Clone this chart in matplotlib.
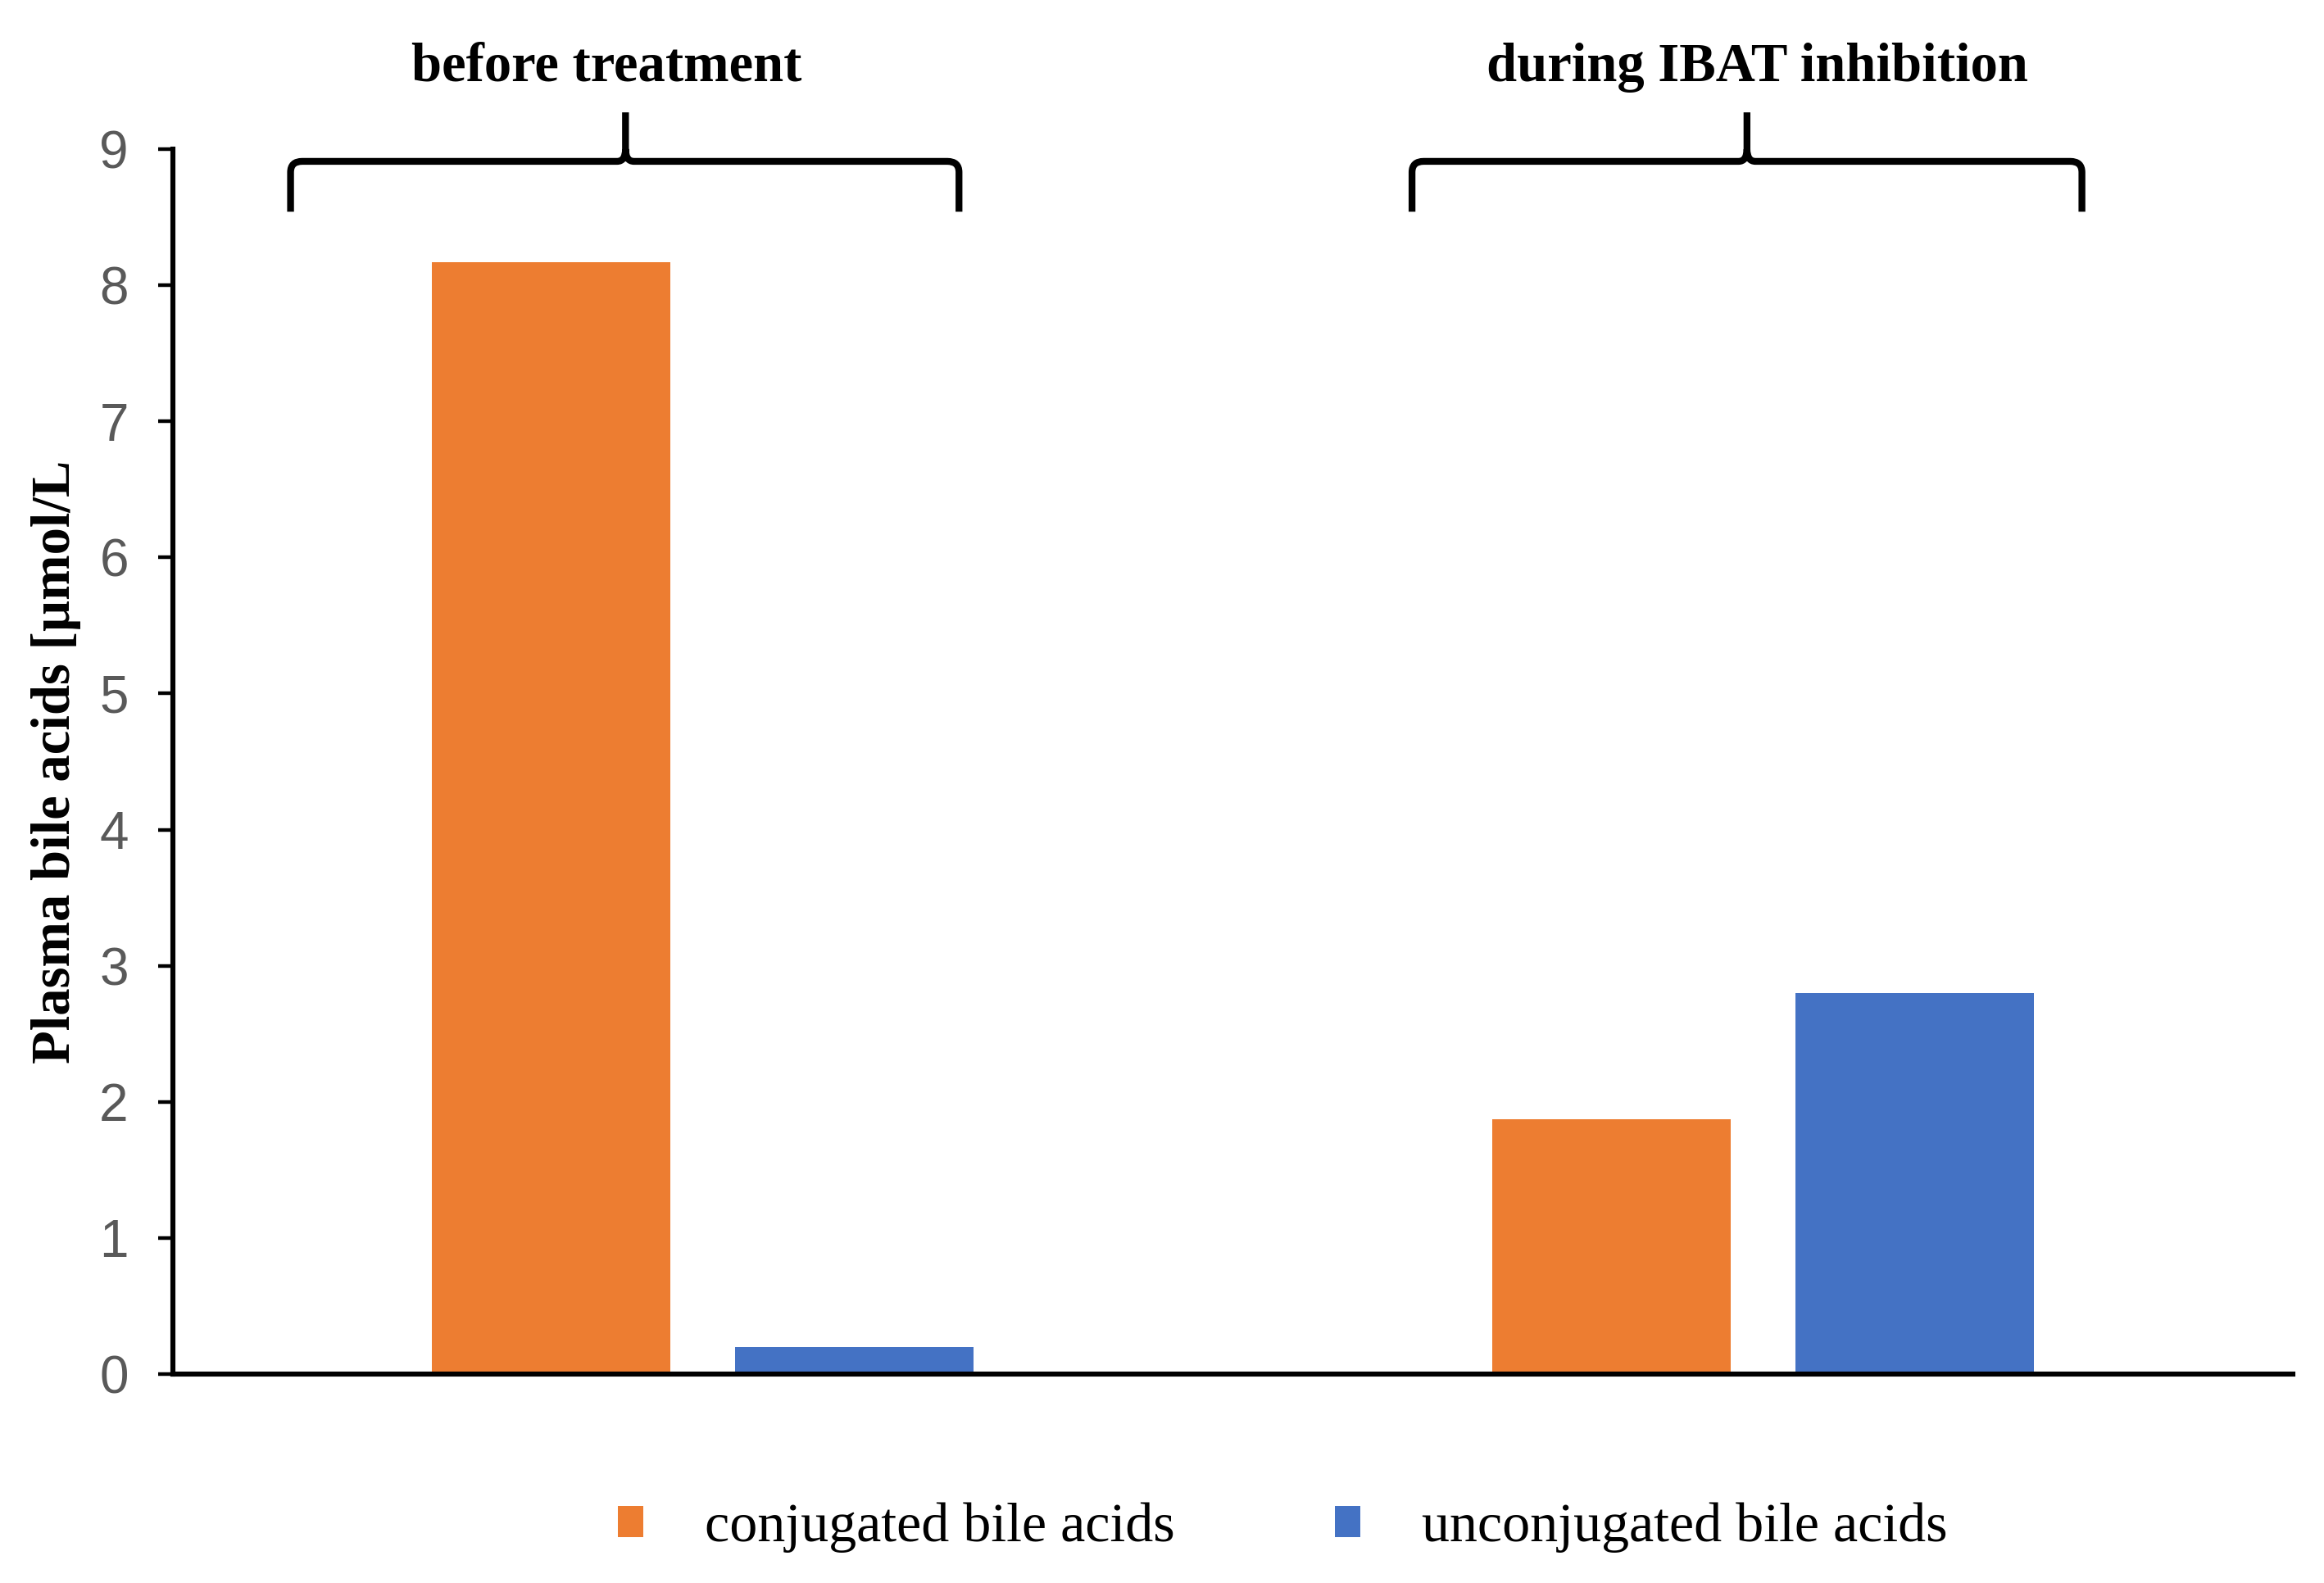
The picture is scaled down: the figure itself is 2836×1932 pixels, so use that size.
import matplotlib
matplotlib.use("Agg")
import matplotlib.pyplot as plt
from matplotlib.path import Path
from matplotlib.patches import PathPatch
import numpy as np

# ---- data ----
groups = ["before treatment", "during IBAT inhibition"]
series_names = ["conjugated bile acids", "unconjugated bile acids"]
conjugated = [8.17, 1.87]
unconjugated = [0.20, 2.80]
yticks = [0, 1, 2, 3, 4, 5, 6, 7, 8, 9]
ylabel = "Plasma bile acids [\u00b5mol/L"

orange = "#ED7D31"
blue = "#4472C4"
serif = ["Liberation Serif", "DejaVu Serif"]

fig = plt.figure(figsize=(14.18, 9.66), dpi=200)
ax = fig.add_axes([0.0744, 0.132, 0.9122, 0.7738])

x = np.arange(len(groups))
w = 0.225
off = 0.143
b1 = ax.bar(x - off, conjugated, w, color=orange, label=series_names[0], zorder=2)
b2 = ax.bar(x + off, unconjugated, w, color=blue, label=series_names[1], zorder=2)

ax.set_xlim(-0.5, 1.5)
ax.set_ylim(0, 9)
ax.set_yticks(yticks)
ax.set_yticklabels([str(t) for t in yticks], family="Liberation Sans", fontsize=23, color="#595959")
ax.set_xticks([])
for s in ["top", "right"]:
    ax.spines[s].set_visible(False)
ax.spines["left"].set_linewidth(2.2)
ax.spines["bottom"].set_linewidth(2.2)
ax.spines["bottom"].set_zorder(3)
ax.tick_params(axis="y", direction="out", length=6.5, width=1.6, pad=13)

# ---- braces ----
def brace(x0, x1, xc, y_end, y_h, y_tip):
    dxr, dyr = 0.011, 0.08
    dxc, dyc = 0.008, 0.09
    verts = [
        (x0, y_end), (x0, y_h - dyr), (x0, y_h), (x0 + dxr, y_h),
        (xc - dxc, y_h), (xc, y_h), (xc, y_h + dyc), (xc, y_tip),
        (xc, y_h + dyc), (xc, y_h), (xc + dxc, y_h),
        (x1 - dxr, y_h), (x1, y_h), (x1, y_h - dyr), (x1, y_end),
    ]
    codes = [
        Path.MOVETO, Path.LINETO, Path.CURVE3, Path.CURVE3,
        Path.LINETO, Path.CURVE3, Path.CURVE3, Path.LINETO,
        Path.MOVETO, Path.CURVE3, Path.CURVE3,
        Path.LINETO, Path.CURVE3, Path.CURVE3, Path.LINETO,
    ]
    p = PathPatch(Path(verts, codes), fill=False, lw=3.0, color="black",
                  clip_on=False, capstyle="butt", joinstyle="round")
    ax.add_patch(p)

brace(-0.389, 0.2416, -0.073, 8.54, 8.91, 9.27)
brace(0.669, 1.301, 0.985, 8.54, 8.91, 9.27)

# ---- titles ----
fig.text(0.261, 0.9488, groups[0], ha="center", va="baseline",
         family=serif, fontweight="bold", fontsize=24)
fig.text(0.7563, 0.9488, groups[1], ha="center", va="baseline",
         family=serif, fontweight="bold", fontsize=24)

fig.text(0.0243, 0.5186, ylabel, rotation=90, ha="center", va="center",
         family=serif, fontweight="bold", fontsize=24)

leg = fig.legend(handles=[b1, b2], labels=series_names, loc="center",
                 bbox_to_anchor=(0.552, 0.035), ncol=2, frameon=False,
                 prop={"family": serif, "size": 24.5},
                 handlelength=0.46, handleheight=0.5, handletextpad=1.1,
                 columnspacing=2.87, borderpad=0)

fig.savefig("out.png", dpi=200)
